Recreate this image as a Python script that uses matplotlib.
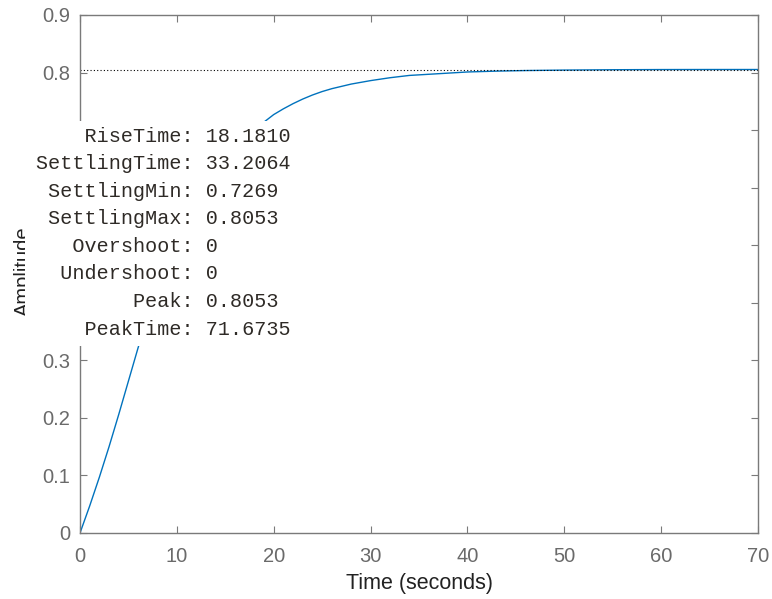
import matplotlib
matplotlib.use("Agg")
import matplotlib.pyplot as plt
from matplotlib.patches import Rectangle

# step response
t = [0, 1, 2, 3, 4, 5, 6, 7, 8, 9, 10, 11, 12, 13, 14, 15, 16, 17, 18, 19,
     20, 21, 22, 23, 24, 25, 26, 27, 28, 29, 30, 32, 34, 36, 38, 40, 43, 46, 50, 55, 60, 65, 70]
y = [0, 0.047, 0.097, 0.150, 0.206, 0.264, 0.322, 0.376, 0.425, 0.470, 0.511, 0.548, 0.581,
     0.610, 0.636, 0.658, 0.677, 0.693, 0.704, 0.714,
     0.727, 0.737, 0.746, 0.754, 0.761, 0.767, 0.772, 0.776, 0.780, 0.783, 0.786, 0.791,
     0.795, 0.797, 0.799, 0.801, 0.8025, 0.8035, 0.8043, 0.8049, 0.8052, 0.8053, 0.8053]
final_value = 0.8053

info_names = ["RiseTime", "SettlingTime", "SettlingMin", "SettlingMax",
              "Overshoot", "Undershoot", "Peak", "PeakTime"]
info_values = ["18.1810", "33.2064", "0.7269", "0.8053", "0", "0", "0.8053", "71.6735"]

W, H = 772, 599
fig = plt.figure(figsize=(W / 100, H / 100), dpi=100)
ax = fig.add_axes([80 / W, 1 - 533 / H, 678 / W, 518 / H])

ax.plot(t, y, color="#0072BD", lw=1.0)
ax.axhline(final_value, color="black", lw=0.8, linestyle=(0, (1, 2)))

ax.set_xlim(0, 70)
ax.set_ylim(0, 0.9)
ax.set_xticks(range(0, 71, 10))
ax.set_yticks([0, 0.1, 0.2, 0.3, 0.4, 0.5, 0.6, 0.7, 0.8, 0.9])
ax.set_yticklabels(["0", "0.1", "0.2", "0.3", "0.4", "0.5", "0.6", "0.7", "0.8", "0.9"])

gray = "#6a6a6a"
for s in ax.spines.values():
    s.set_color("#7a7a7a")
    s.set_linewidth(1.0)
ax.tick_params(direction="in", length=5, width=0.8, color="#7a7a7a",
               top=True, right=True, labelsize=14.5, labelcolor=gray)
ax.tick_params(axis="x", pad=10)
ax.tick_params(axis="y", pad=7)
for lbl in ax.get_xticklabels() + ax.get_yticklabels():
    lbl.set_fontfamily("Liberation Sans")

fig.text(419 / W, 1 - 584 / H, "Time (seconds)", ha="center", va="center",
         fontsize=15.5, color="#222222", family="Liberation Sans")
fig.text(23 / W, 1 - 271.5 / H, "Amplitude", rotation=90, ha="center", va="center",
         fontsize=14.5, color="#222222", family="Liberation Sans")

# white stepinfo box over the axes
fig.patches.append(Rectangle((25 / W, 1 - 346 / H), 273 / W, 225 / H,
                             transform=fig.transFigure, facecolor="white",
                             edgecolor="none", zorder=5))
for i, (n, v) in enumerate(zip(info_names, info_values)):
    fig.text(36 / W, 1 - (136 + i * 27.6) / H, f"{n:>12}: {v}",
             ha="left", va="center", fontsize=14.5, family="Liberation Mono",
             color="#2e2a26", zorder=6)

fig.savefig("out.png", dpi=100)
